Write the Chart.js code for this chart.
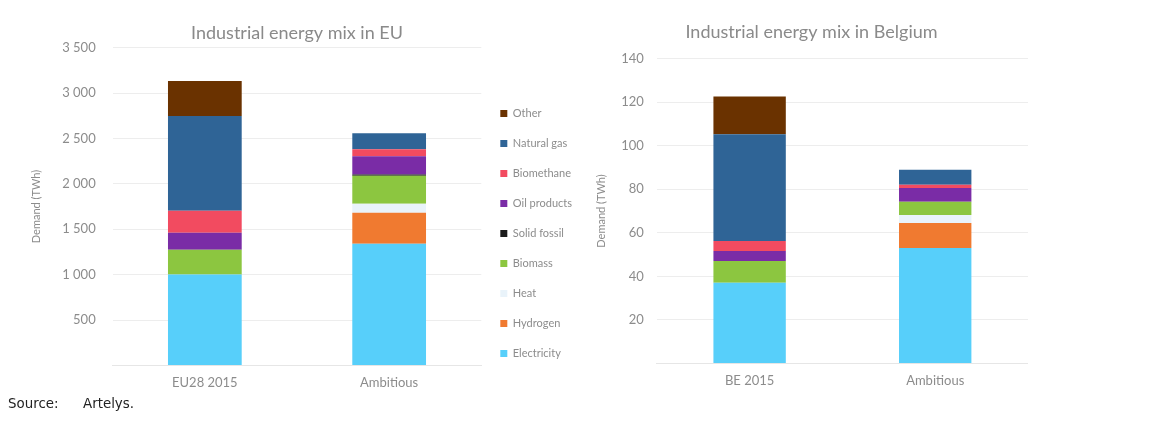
<!DOCTYPE html>
<html>
<head>
<meta charset="utf-8">
<script src="https://cdn.jsdelivr.net/npm/chart.js@4"></script>
<style>
    body { margin: 0; width: 1153px; height: 423px; background: #fff; position: relative; overflow: hidden; }
    #eu-wrap { position: absolute; left: 0; top: 0; width: 582px; height: 410px; }
    #be-wrap { position: absolute; left: 588px; top: 0; width: 440px; height: 412px; }
    .source { position: absolute; top: 396px; font-family: "DejaVu Sans", sans-serif; font-size: 13.4px; color: #222; }
</style>
</head>
<body>
<div id="eu-wrap"><canvas id="eu-chart"></canvas></div>
<div id="be-wrap"><canvas id="be-chart"></canvas></div>
<div class="source" style="left:8px">Source:</div>
<div class="source" style="left:83px">Artelys.</div>
<script>
// Series names, bottom of the stack first
const seriesNames = ['Electricity', 'Hydrogen', 'Heat', 'Biomass', 'Solid fossil', 'Oil products', 'Biomethane', 'Natural gas', 'Other'];
const seriesColors = ['#57cffa', '#f07a30', '#e9f3fa', '#8cc640', '#1b1b1b', '#7a2ca6', '#f24b60', '#2f6496', '#6a3200'];

// EU chart (TWh)
const euCategories = ['EU28 2015', 'Ambitious'];
const euElectricity = [1000, 1340];
const euHydrogen = [0, 340];
const euHeat = [0, 100];
const euBiomass = [275, 308];
const euSolid = [0, 15];
const euOil = [187, 200];
const euSynthetic = [242, 77];
const euGas = [1044, 176];
const euOther = [385, 0];

// Belgium chart (TWh)
const beCategories = ['BE 2015', 'Ambitious'];
const beElectricity = [37, 53];
const beHydrogen = [0, 11.5];
const beHeat = [0, 3.7];
const beBiomass = [10, 6];
const beSolid = [0, 0];
const beOil = [4.6, 6.4];
const beSynthetic = [4.6, 1.4];
const beGas = [49, 6.9];
const beOther = [17.4, 0];

const textColor = '#8c8c8c';
const fontFamily = 'Lato, "Open Sans", sans-serif';

// nudges the shared legend up so it sits like in the report
const legendShift = {
    id: 'legendShift',
    afterLayout(chart, args, opts) {
        const legend = chart.legend;
        if (!legend || !legend.options.display) return;
        legend.top += opts.dy || 0;
        legend.bottom += opts.dy || 0;
    }
};

function buildDatasets(series, barPct) {
    return series.map((values, i) => ({
        label: seriesNames[i],
        data: values,
        backgroundColor: seriesColors[i],
        borderWidth: 0,
        barPercentage: barPct,
        categoryPercentage: 0.5
    }));
}

function formatTick(value) {
    if (value === 0) return '';
    return value >= 1000 ? Math.floor(value / 1000) + ' ' + String(value % 1000).padStart(3, '0') : String(value);
}

function makeChart(id, cfg) {
    return new Chart(document.getElementById(id), {
        type: 'bar',
        data: { labels: cfg.categories, datasets: buildDatasets(cfg.series, cfg.barPct) },
        plugins: [legendShift],
        options: {
            responsive: true,
            maintainAspectRatio: false,
            animation: false,
            layout: { padding: cfg.padding },
            scales: {
                x: {
                    stacked: true,
                    grid: { display: false, drawTicks: false },
                    border: { color: '#e6e6e6' },
                    ticks: { color: textColor, font: { family: fontFamily, size: 13 }, padding: cfg.xTickPad }
                },
                y: {
                    stacked: true,
                    min: 0,
                    max: cfg.max,
                    border: { display: false },
                    grid: { color: '#ededed', drawTicks: false },
                    ticks: { stepSize: cfg.step, color: textColor, font: { family: fontFamily, size: 13 }, padding: cfg.yTickPad, callback: formatTick },
                    title: { display: true, text: 'Demand (TWh)', color: textColor, font: { family: fontFamily, size: 11 }, padding: cfg.yTitlePad }
                }
            },
            plugins: {
                title: {
                    display: true,
                    text: cfg.title,
                    color: '#8a8a8a',
                    font: { family: fontFamily, size: 18, weight: 'normal' },
                    padding: cfg.titlePad,
                    fullSize: cfg.titleFull
                },
                legend: {
                    display: cfg.legend,
                    position: 'right',
                    align: 'end',
                    reverse: true,
                    labels: {
                        color: textColor,
                        font: { family: fontFamily, size: 11 },
                        boxWidth: 7,
                        boxHeight: 7,
                        padding: 19
                    }
                },
                legendShift: { dy: -23 },
                tooltip: { enabled: false }
            }
        }
    });
}

makeChart('eu-chart', {
    categories: euCategories,
    series: [euElectricity, euHydrogen, euHeat, euBiomass, euSolid, euOil, euSynthetic, euGas, euOther],
    max: 3500, step: 500, barPct: 0.8,
    title: 'Industrial energy mix in EU',
    titlePad: { top: 22, bottom: 4 },
    titleFull: false,
    legend: true,
    padding: { left: 28, right: 0, bottom: 9, top: 0 },
    xTickPad: 10, yTickPad: 17, yTitlePad: 2
});

makeChart('be-chart', {
    categories: beCategories,
    series: [beElectricity, beHydrogen, beHeat, beBiomass, beSolid, beOil, beSynthetic, beGas, beOther],
    max: 140, step: 20, barPct: 0.78,
    title: 'Industrial energy mix in Belgium',
    titlePad: { top: 21, bottom: 16 },
    titleFull: true,
    legend: false,
    padding: { left: 7, right: 0, bottom: 13, top: 0 },
    xTickPad: 10, yTickPad: 13, yTitlePad: 0
});
</script>
</body>
</html>
